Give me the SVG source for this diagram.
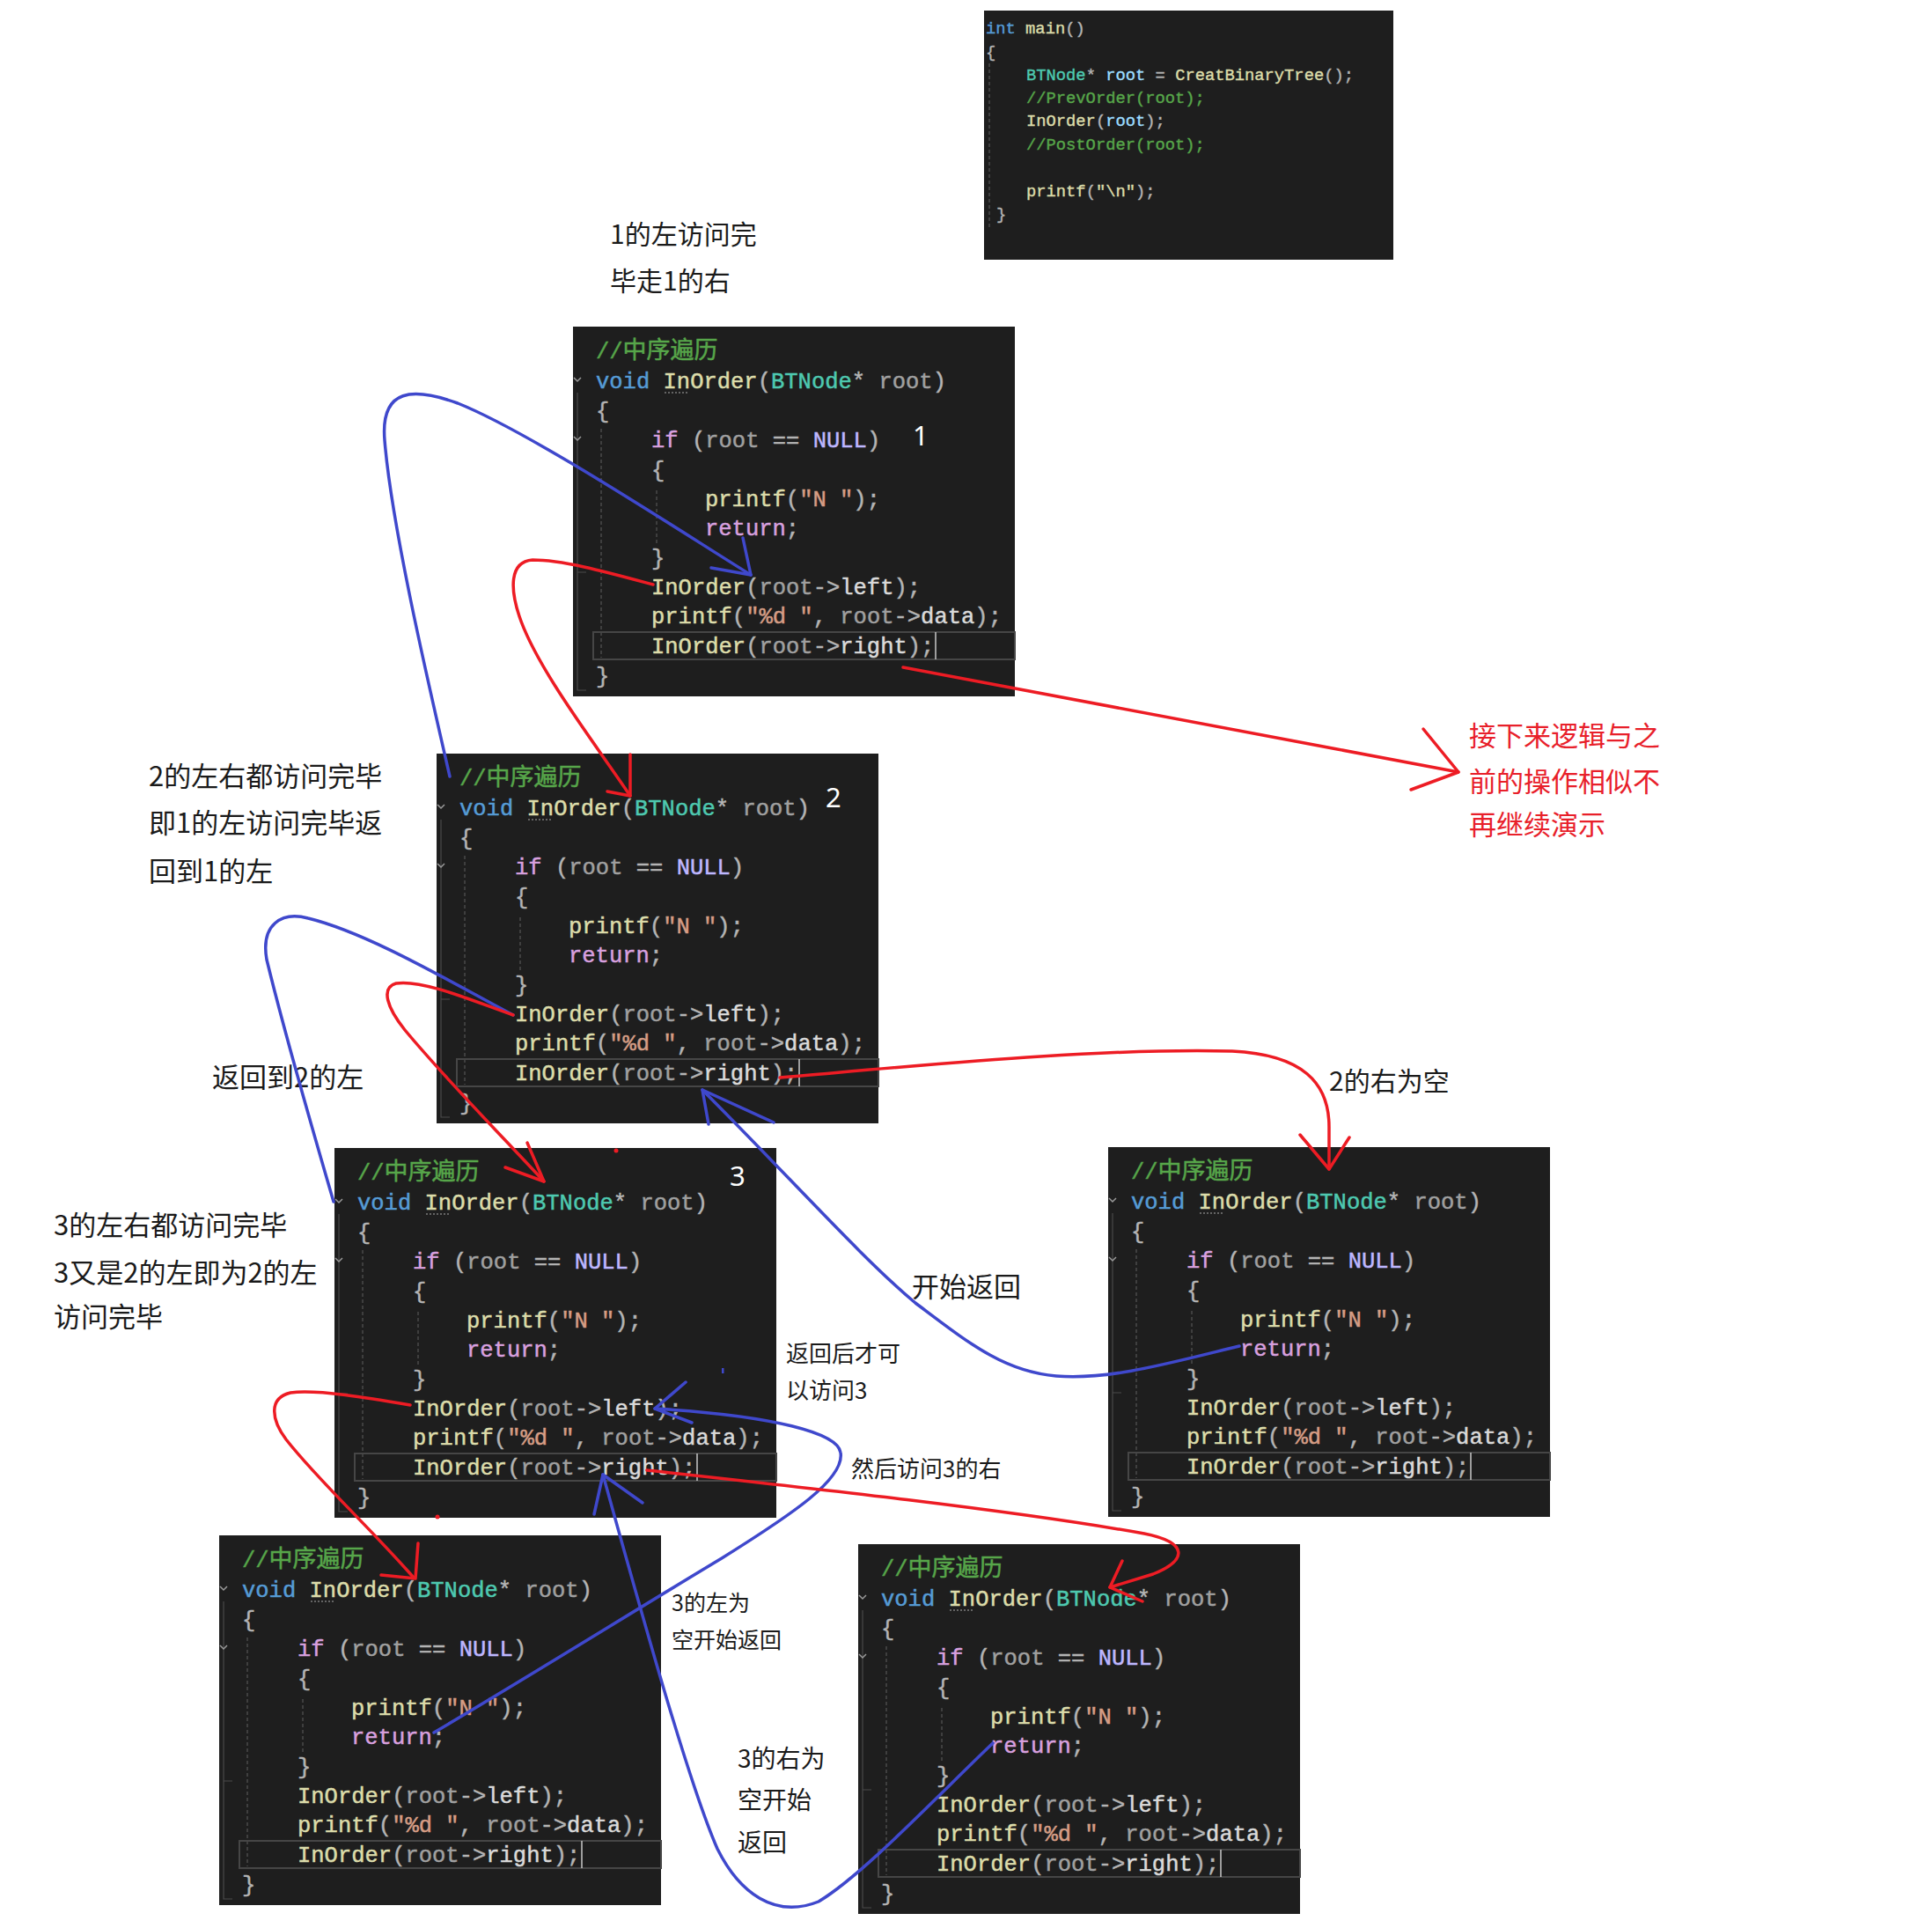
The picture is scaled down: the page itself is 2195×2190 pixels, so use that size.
<svg xmlns="http://www.w3.org/2000/svg" width="2195" height="2190" viewBox="0 0 2195 2190">
<style>
.bg{fill:#1E1E1E}
.gd{stroke:#555;stroke-width:1.2;stroke-dasharray:4 3;fill:none}
.ol{stroke:#4a4a4a;stroke-width:1.2;fill:none}
.fold{stroke:#9a9a9a;stroke-width:1.5;fill:none}
.dot{stroke:#aaa;stroke-width:1;stroke-dasharray:2 2;fill:none}
.hl{fill:none;stroke:#464646;stroke-width:2}
.cur{stroke:#c8c8c8;stroke-width:1.5}
.code{font-family:"Liberation Mono","Noto Sans CJK SC",monospace;font-size:25.5px;white-space:pre;stroke-width:0.5}
.mcode{font-family:"Liberation Mono","Noto Sans CJK SC",monospace;font-size:18.8px;white-space:pre;stroke-width:0.4}
.cj{font-size:27px}
.kw{fill:#569CD6;stroke:#569CD6}.fn{fill:#DCDCAA;stroke:#DCDCAA}.ty{fill:#4EC9B0;stroke:#4EC9B0}.pm{fill:#A0A0A0;stroke:#A0A0A0}.ct{fill:#D8A0DF;stroke:#D8A0DF}.mc{fill:#BEB7FF;stroke:#BEB7FF}
.st{fill:#D69D85;stroke:#D69D85}.pu{fill:#B4B4B4;stroke:#B4B4B4}.cm{fill:#57A64A;stroke:#57A64A}.lv{fill:#9CDCFE;stroke:#9CDCFE}.fd{fill:#DADADA;stroke:#DADADA}
.num{font-family:"Noto Sans","Liberation Sans",sans-serif;font-size:31px;fill:#fff}
.note{font-family:"Noto Sans CJK SC",sans-serif;fill:#1a1a1a}
.rnote{font-family:"Noto Sans CJK SC",sans-serif;fill:#E8202A;font-size:31px}
.red{stroke:#ED1C24;stroke-width:3.5;fill:none;stroke-linecap:round;stroke-linejoin:round}
.blue{stroke:#3F48CC;stroke-width:3.5;fill:none;stroke-linecap:round;stroke-linejoin:round}
</style>

<g id="main-code">
<rect class="bg" x="1118" y="12" width="465" height="283"/>
<path class="gd" d="M1124,72V258"/>
<text class="mcode" x="1120" y="38"><tspan class="kw">int</tspan> <tspan class="fn">main</tspan><tspan class="pu">()</tspan></text>
<text class="mcode pu" x="1120" y="65">{</text>
<text class="mcode" x="1166" y="91"><tspan class="ty">BTNode</tspan><tspan class="pu">*</tspan> <tspan class="lv">root</tspan> <tspan class="pu">=</tspan> <tspan class="fn">CreatBinaryTree</tspan><tspan class="pu">();</tspan></text>
<text class="mcode cm" x="1166" y="117">//PrevOrder(root);</text>
<text class="mcode" x="1166" y="143"><tspan class="fn">InOrder</tspan><tspan class="pu">(</tspan><tspan class="lv">root</tspan><tspan class="pu">);</tspan></text>
<text class="mcode cm" x="1166" y="170">//PostOrder(root);</text>
<text class="mcode" x="1166" y="223"><tspan class="fn">printf</tspan><tspan class="pu">(</tspan><tspan class="fn">"\n"</tspan><tspan class="pu">);</tspan></text>
<text class="mcode pu" x="1132" y="249">}</text>
</g>

<g id="frame1" transform="translate(651,371)">
<rect class="bg" width="502" height="420"/>
<path class="gd" d="M32,116V376M95,186V246"/><path class="ol" d="M5,75V413H15M5,279H15"/>
<path class="fold" d="M1,58l4,4l4,-4M1,125l4,4l4,-4"/><path class="dot" d="M104,75H132"/>
<rect class="hl" x="23" y="347" width="479" height="31"/><path class="cur" d="M412,347V378"/>
<text class="code cm" x="26" y="36">//<tspan class="cj">中序遍历</tspan></text>
<text class="code" x="26" y="70"><tspan class="kw">void</tspan> <tspan class="fn">InOrder</tspan><tspan class="pu">(</tspan><tspan class="ty">BTNode</tspan><tspan class="pu">*</tspan> <tspan class="pm">root</tspan><tspan class="pu">)</tspan></text>
<text class="code pu" x="26" y="104">{</text>
<text class="code" x="89" y="137"><tspan class="ct">if</tspan> <tspan class="pu">(</tspan><tspan class="pm">root</tspan> <tspan class="pu">==</tspan> <tspan class="mc">NULL</tspan><tspan class="pu">)</tspan></text>
<text class="code pu" x="89" y="171">{</text>
<text class="code" x="150" y="204"><tspan class="fn">printf</tspan><tspan class="pu">(</tspan><tspan class="st">"N "</tspan><tspan class="pu">);</tspan></text>
<text class="code" x="150" y="237"><tspan class="ct">return</tspan><tspan class="pu">;</tspan></text>
<text class="code pu" x="89" y="271">}</text>
<text class="code" x="89" y="304"><tspan class="fn">InOrder</tspan><tspan class="pu">(</tspan><tspan class="pm">root</tspan><tspan class="pu">-&gt;</tspan><tspan class="fd">left</tspan><tspan class="pu">);</tspan></text>
<text class="code" x="89" y="337"><tspan class="fn">printf</tspan><tspan class="pu">(</tspan><tspan class="st">"%d "</tspan><tspan class="pu">,</tspan> <tspan class="pm">root</tspan><tspan class="pu">-&gt;</tspan><tspan class="fd">data</tspan><tspan class="pu">);</tspan></text>
<text class="code" x="89" y="371"><tspan class="fn">InOrder</tspan><tspan class="pu">(</tspan><tspan class="pm">root</tspan><tspan class="pu">-&gt;</tspan><tspan class="fd">right</tspan><tspan class="pu">);</tspan></text>
<text class="code pu" x="26" y="405">}</text>
<text class="num" x="386" y="135">1</text>
</g>

<g id="frame2" transform="translate(496,856)">
<rect class="bg" width="502" height="420"/>
<path class="gd" d="M32,116V376M95,186V246"/><path class="ol" d="M5,75V413H15M5,279H15"/>
<path class="fold" d="M1,58l4,4l4,-4M1,125l4,4l4,-4"/><path class="dot" d="M104,75H132"/>
<rect class="hl" x="23" y="347" width="479" height="31"/><path class="cur" d="M412,347V378"/>
<text class="code cm" x="26" y="36">//<tspan class="cj">中序遍历</tspan></text>
<text class="code" x="26" y="70"><tspan class="kw">void</tspan> <tspan class="fn">InOrder</tspan><tspan class="pu">(</tspan><tspan class="ty">BTNode</tspan><tspan class="pu">*</tspan> <tspan class="pm">root</tspan><tspan class="pu">)</tspan></text>
<text class="code pu" x="26" y="104">{</text>
<text class="code" x="89" y="137"><tspan class="ct">if</tspan> <tspan class="pu">(</tspan><tspan class="pm">root</tspan> <tspan class="pu">==</tspan> <tspan class="mc">NULL</tspan><tspan class="pu">)</tspan></text>
<text class="code pu" x="89" y="171">{</text>
<text class="code" x="150" y="204"><tspan class="fn">printf</tspan><tspan class="pu">(</tspan><tspan class="st">"N "</tspan><tspan class="pu">);</tspan></text>
<text class="code" x="150" y="237"><tspan class="ct">return</tspan><tspan class="pu">;</tspan></text>
<text class="code pu" x="89" y="271">}</text>
<text class="code" x="89" y="304"><tspan class="fn">InOrder</tspan><tspan class="pu">(</tspan><tspan class="pm">root</tspan><tspan class="pu">-&gt;</tspan><tspan class="fd">left</tspan><tspan class="pu">);</tspan></text>
<text class="code" x="89" y="337"><tspan class="fn">printf</tspan><tspan class="pu">(</tspan><tspan class="st">"%d "</tspan><tspan class="pu">,</tspan> <tspan class="pm">root</tspan><tspan class="pu">-&gt;</tspan><tspan class="fd">data</tspan><tspan class="pu">);</tspan></text>
<text class="code" x="89" y="371"><tspan class="fn">InOrder</tspan><tspan class="pu">(</tspan><tspan class="pm">root</tspan><tspan class="pu">-&gt;</tspan><tspan class="fd">right</tspan><tspan class="pu">);</tspan></text>
<text class="code pu" x="26" y="405">}</text>
<text class="num" x="442" y="61">2</text>
</g>

<g id="frame3" transform="translate(380,1304)">
<rect class="bg" width="502" height="420"/>
<path class="gd" d="M32,116V376M95,186V246"/><path class="ol" d="M5,75V413H15M5,279H15"/>
<path class="fold" d="M1,58l4,4l4,-4M1,125l4,4l4,-4"/><path class="dot" d="M104,75H132"/>
<rect class="hl" x="23" y="347" width="479" height="31"/><path class="cur" d="M412,347V378"/>
<text class="code cm" x="26" y="36">//<tspan class="cj">中序遍历</tspan></text>
<text class="code" x="26" y="70"><tspan class="kw">void</tspan> <tspan class="fn">InOrder</tspan><tspan class="pu">(</tspan><tspan class="ty">BTNode</tspan><tspan class="pu">*</tspan> <tspan class="pm">root</tspan><tspan class="pu">)</tspan></text>
<text class="code pu" x="26" y="104">{</text>
<text class="code" x="89" y="137"><tspan class="ct">if</tspan> <tspan class="pu">(</tspan><tspan class="pm">root</tspan> <tspan class="pu">==</tspan> <tspan class="mc">NULL</tspan><tspan class="pu">)</tspan></text>
<text class="code pu" x="89" y="171">{</text>
<text class="code" x="150" y="204"><tspan class="fn">printf</tspan><tspan class="pu">(</tspan><tspan class="st">"N "</tspan><tspan class="pu">);</tspan></text>
<text class="code" x="150" y="237"><tspan class="ct">return</tspan><tspan class="pu">;</tspan></text>
<text class="code pu" x="89" y="271">}</text>
<text class="code" x="89" y="304"><tspan class="fn">InOrder</tspan><tspan class="pu">(</tspan><tspan class="pm">root</tspan><tspan class="pu">-&gt;</tspan><tspan class="fd">left</tspan><tspan class="pu">);</tspan></text>
<text class="code" x="89" y="337"><tspan class="fn">printf</tspan><tspan class="pu">(</tspan><tspan class="st">"%d "</tspan><tspan class="pu">,</tspan> <tspan class="pm">root</tspan><tspan class="pu">-&gt;</tspan><tspan class="fd">data</tspan><tspan class="pu">);</tspan></text>
<text class="code" x="89" y="371"><tspan class="fn">InOrder</tspan><tspan class="pu">(</tspan><tspan class="pm">root</tspan><tspan class="pu">-&gt;</tspan><tspan class="fd">right</tspan><tspan class="pu">);</tspan></text>
<text class="code pu" x="26" y="405">}</text>
<text class="num" x="449" y="43">3</text>
</g>

<g id="frame-right" transform="translate(1259,1303)">
<rect class="bg" width="502" height="420"/>
<path class="gd" d="M32,116V376M95,186V246"/><path class="ol" d="M5,75V413H15M5,279H15"/>
<path class="fold" d="M1,58l4,4l4,-4M1,125l4,4l4,-4"/><path class="dot" d="M104,75H132"/>
<rect class="hl" x="23" y="347" width="479" height="31"/><path class="cur" d="M412,347V378"/>
<text class="code cm" x="26" y="36">//<tspan class="cj">中序遍历</tspan></text>
<text class="code" x="26" y="70"><tspan class="kw">void</tspan> <tspan class="fn">InOrder</tspan><tspan class="pu">(</tspan><tspan class="ty">BTNode</tspan><tspan class="pu">*</tspan> <tspan class="pm">root</tspan><tspan class="pu">)</tspan></text>
<text class="code pu" x="26" y="104">{</text>
<text class="code" x="89" y="137"><tspan class="ct">if</tspan> <tspan class="pu">(</tspan><tspan class="pm">root</tspan> <tspan class="pu">==</tspan> <tspan class="mc">NULL</tspan><tspan class="pu">)</tspan></text>
<text class="code pu" x="89" y="171">{</text>
<text class="code" x="150" y="204"><tspan class="fn">printf</tspan><tspan class="pu">(</tspan><tspan class="st">"N "</tspan><tspan class="pu">);</tspan></text>
<text class="code" x="150" y="237"><tspan class="ct">return</tspan><tspan class="pu">;</tspan></text>
<text class="code pu" x="89" y="271">}</text>
<text class="code" x="89" y="304"><tspan class="fn">InOrder</tspan><tspan class="pu">(</tspan><tspan class="pm">root</tspan><tspan class="pu">-&gt;</tspan><tspan class="fd">left</tspan><tspan class="pu">);</tspan></text>
<text class="code" x="89" y="337"><tspan class="fn">printf</tspan><tspan class="pu">(</tspan><tspan class="st">"%d "</tspan><tspan class="pu">,</tspan> <tspan class="pm">root</tspan><tspan class="pu">-&gt;</tspan><tspan class="fd">data</tspan><tspan class="pu">);</tspan></text>
<text class="code" x="89" y="371"><tspan class="fn">InOrder</tspan><tspan class="pu">(</tspan><tspan class="pm">root</tspan><tspan class="pu">-&gt;</tspan><tspan class="fd">right</tspan><tspan class="pu">);</tspan></text>
<text class="code pu" x="26" y="405">}</text>
</g>

<g id="frame-bl" transform="translate(249,1744)">
<rect class="bg" width="502" height="420"/>
<path class="gd" d="M32,116V376M95,186V246"/><path class="ol" d="M5,75V413H15M5,279H15"/>
<path class="fold" d="M1,58l4,4l4,-4M1,125l4,4l4,-4"/><path class="dot" d="M104,75H132"/>
<rect class="hl" x="23" y="347" width="479" height="31"/><path class="cur" d="M412,347V378"/>
<text class="code cm" x="26" y="36">//<tspan class="cj">中序遍历</tspan></text>
<text class="code" x="26" y="70"><tspan class="kw">void</tspan> <tspan class="fn">InOrder</tspan><tspan class="pu">(</tspan><tspan class="ty">BTNode</tspan><tspan class="pu">*</tspan> <tspan class="pm">root</tspan><tspan class="pu">)</tspan></text>
<text class="code pu" x="26" y="104">{</text>
<text class="code" x="89" y="137"><tspan class="ct">if</tspan> <tspan class="pu">(</tspan><tspan class="pm">root</tspan> <tspan class="pu">==</tspan> <tspan class="mc">NULL</tspan><tspan class="pu">)</tspan></text>
<text class="code pu" x="89" y="171">{</text>
<text class="code" x="150" y="204"><tspan class="fn">printf</tspan><tspan class="pu">(</tspan><tspan class="st">"N "</tspan><tspan class="pu">);</tspan></text>
<text class="code" x="150" y="237"><tspan class="ct">return</tspan><tspan class="pu">;</tspan></text>
<text class="code pu" x="89" y="271">}</text>
<text class="code" x="89" y="304"><tspan class="fn">InOrder</tspan><tspan class="pu">(</tspan><tspan class="pm">root</tspan><tspan class="pu">-&gt;</tspan><tspan class="fd">left</tspan><tspan class="pu">);</tspan></text>
<text class="code" x="89" y="337"><tspan class="fn">printf</tspan><tspan class="pu">(</tspan><tspan class="st">"%d "</tspan><tspan class="pu">,</tspan> <tspan class="pm">root</tspan><tspan class="pu">-&gt;</tspan><tspan class="fd">data</tspan><tspan class="pu">);</tspan></text>
<text class="code" x="89" y="371"><tspan class="fn">InOrder</tspan><tspan class="pu">(</tspan><tspan class="pm">root</tspan><tspan class="pu">-&gt;</tspan><tspan class="fd">right</tspan><tspan class="pu">);</tspan></text>
<text class="code pu" x="26" y="405">}</text>
</g>

<g id="frame-br" transform="translate(975,1754)">
<rect class="bg" width="502" height="420"/>
<path class="gd" d="M32,116V376M95,186V246"/><path class="ol" d="M5,75V413H15M5,279H15"/>
<path class="fold" d="M1,58l4,4l4,-4M1,125l4,4l4,-4"/><path class="dot" d="M104,75H132"/>
<rect class="hl" x="23" y="347" width="479" height="31"/><path class="cur" d="M412,347V378"/>
<text class="code cm" x="26" y="36">//<tspan class="cj">中序遍历</tspan></text>
<text class="code" x="26" y="70"><tspan class="kw">void</tspan> <tspan class="fn">InOrder</tspan><tspan class="pu">(</tspan><tspan class="ty">BTNode</tspan><tspan class="pu">*</tspan> <tspan class="pm">root</tspan><tspan class="pu">)</tspan></text>
<text class="code pu" x="26" y="104">{</text>
<text class="code" x="89" y="137"><tspan class="ct">if</tspan> <tspan class="pu">(</tspan><tspan class="pm">root</tspan> <tspan class="pu">==</tspan> <tspan class="mc">NULL</tspan><tspan class="pu">)</tspan></text>
<text class="code pu" x="89" y="171">{</text>
<text class="code" x="150" y="204"><tspan class="fn">printf</tspan><tspan class="pu">(</tspan><tspan class="st">"N "</tspan><tspan class="pu">);</tspan></text>
<text class="code" x="150" y="237"><tspan class="ct">return</tspan><tspan class="pu">;</tspan></text>
<text class="code pu" x="89" y="271">}</text>
<text class="code" x="89" y="304"><tspan class="fn">InOrder</tspan><tspan class="pu">(</tspan><tspan class="pm">root</tspan><tspan class="pu">-&gt;</tspan><tspan class="fd">left</tspan><tspan class="pu">);</tspan></text>
<text class="code" x="89" y="337"><tspan class="fn">printf</tspan><tspan class="pu">(</tspan><tspan class="st">"%d "</tspan><tspan class="pu">,</tspan> <tspan class="pm">root</tspan><tspan class="pu">-&gt;</tspan><tspan class="fd">data</tspan><tspan class="pu">);</tspan></text>
<text class="code" x="89" y="371"><tspan class="fn">InOrder</tspan><tspan class="pu">(</tspan><tspan class="pm">root</tspan><tspan class="pu">-&gt;</tspan><tspan class="fd">right</tspan><tspan class="pu">);</tspan></text>
<text class="code pu" x="26" y="405">}</text>
</g>

<g id="notes">
<text class="note" font-size="30" x="693" y="277">1的左访问完</text>
<text class="note" font-size="30" x="693" y="330">毕走1的右</text>
<text class="note" font-size="31" x="169" y="893">2的左右都访问完毕</text>
<text class="note" font-size="31" x="169" y="946">即1的左访问完毕返</text>
<text class="note" font-size="31" x="169" y="1001">回到1的左</text>
<text class="note" font-size="31" x="241" y="1235">返回到2的左</text>
<text class="note" font-size="31" x="61" y="1403">3的左右都访问完毕</text>
<text class="note" font-size="31" x="61" y="1457">3又是2的左即为2的左</text>
<text class="note" font-size="31" x="61" y="1507">访问完毕</text>
<text class="note" font-size="30" x="1510" y="1239">2的右为空</text>
<text class="note" font-size="31" x="1036" y="1473">开始返回</text>
<text class="note" font-size="26" x="893" y="1547">返回后才可</text>
<text class="note" font-size="26" x="893" y="1589">以访问3</text>
<text class="note" font-size="26" x="967" y="1678">然后访问3的右</text>
<text class="note" font-size="25" x="763" y="1830">3的左为</text>
<text class="note" font-size="25" x="763" y="1872">空开始返回</text>
<text class="note" font-size="28" x="838" y="2008">3的右为</text>
<text class="note" font-size="28" x="838" y="2055">空开始</text>
<text class="note" font-size="28" x="838" y="2103">返回</text>
<text class="rnote" x="1669" y="847">接下来逻辑与之</text>
<text class="rnote" x="1669" y="899">前的操作相似不</text>
<text class="rnote" x="1669" y="948">再继续演示</text>
</g>

<g id="connectors">
<path class="blue" d="M511,882 C490,790 445,600 437,500 C432,440 470,440 520,458 C600,490 760,595 853,653"/>
<path class="blue" d="M844,611 L853,653 L808,645"/>
<path class="red" d="M742,664 C690,650 640,636 605,636 C578,638 580,670 590,700 C610,760 680,850 716,904"/>
<path class="red" d="M716,857 L716,904 L690,899"/>
<path class="red" d="M1026,758 C1250,800 1450,838 1657,877"/>
<path class="red" d="M1617,828 L1657,877 L1603,897"/>
<path class="blue" d="M379,1365 C360,1300 320,1160 303,1090 C296,1050 320,1035 350,1043 C420,1060 520,1120 583,1153"/>
<path class="red" d="M583,1153 C540,1138 480,1112 450,1117 C432,1122 440,1145 460,1170 C510,1230 570,1290 618,1342"/>
<path class="red" d="M599,1298 L618,1342 L574,1326"/>
<path class="red" d="M886,1224 C1050,1210 1250,1190 1400,1194 C1480,1198 1510,1230 1510,1280 L1510,1328"/>
<path class="red" d="M1477,1289 L1510,1328 L1533,1292"/>
<path class="blue" d="M1408,1529 C1330,1548 1260,1568 1200,1563 C1140,1558 1100,1525 1040,1480 C980,1430 900,1340 798,1238"/>
<path class="blue" d="M805,1277 L798,1238 L879,1275"/>
<path class="red" d="M466,1596 C420,1588 360,1578 330,1582 C305,1588 308,1612 325,1635 C360,1680 420,1735 470,1792"/>
<path class="red" d="M475,1753 L472,1793 L433,1789"/>
<path class="blue" d="M493,1968 C600,1905 720,1830 820,1770 C900,1720 960,1680 955,1650 C952,1628 880,1608 744,1600"/>
<path class="blue" d="M779,1570 L744,1600 L786,1616"/>
<path class="red" d="M735,1670 C900,1688 1150,1715 1300,1742 C1350,1752 1350,1772 1310,1788 L1261,1803"/>
<path class="red" d="M1275,1773 L1261,1803 L1298,1819"/>
<path class="blue" d="M1128,1980 C1060,2045 980,2130 930,2160 C880,2180 840,2150 815,2100 C780,2020 720,1800 685,1675"/>
<path class="blue" d="M675,1720 L685,1675 L730,1707"/>
</g>

<g id="marks">
<circle cx="700" cy="1307" r="2.5" fill="#ED1C24"/>
<circle cx="497" cy="1723" r="2.5" fill="#ED1C24"/>
<rect x="820" y="1554" width="2.5" height="6" fill="#3F48CC"/>
</g>
</svg>
